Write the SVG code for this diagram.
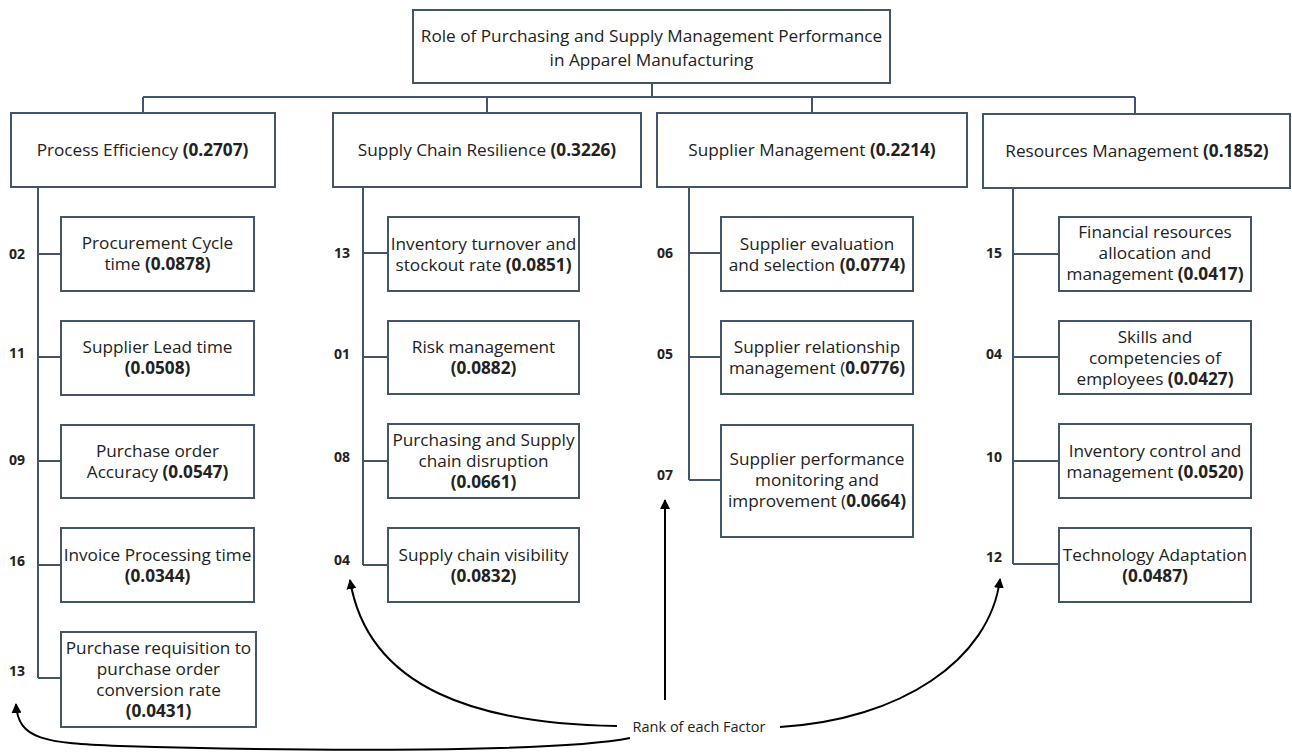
<svg xmlns="http://www.w3.org/2000/svg" width="1292" height="753" viewBox="0 0 1292 753">
<defs>
<style>
.box{fill:#fff;stroke:#44546A;stroke-width:2}
.ln{fill:none;stroke:#44546A;stroke-width:2}
.t{font-family:"Open Sans","Liberation Sans",sans-serif;font-size:17.2px;fill:#222;text-anchor:middle}
.b{font-weight:bold}
.rk{font-family:"Open Sans","Liberation Sans",sans-serif;font-size:14px;font-weight:bold;fill:#222;text-anchor:middle}
.arr{fill:none;stroke:#000;stroke-width:2}
.lbl{font-family:"Open Sans","Liberation Sans",sans-serif;font-size:14.5px;fill:#222;text-anchor:middle}
</style>
<marker id="ah" viewBox="0 0 10 10" refX="9" refY="5" markerWidth="5" markerHeight="5" orient="auto">
<path d="M0,0 L10,5 L0,10 z" fill="#000"/>
</marker>
</defs>
<rect width="1292" height="753" fill="#fff"/>

<g id="connectors">
<path class="ln" d="M652,83 V97 M143,97 H1135 M143,97 V113 M487,97 V113 M812,97 V113 M1135,97 V114"/>
<path class="ln" d="M38,187 V678 M38,254 H61 M38,357 H61 M38,461 H61 M38,565 H61 M38,678 H61"/>
<path class="ln" d="M363,187 V565 M363,253 H388 M363,357 H388 M363,461 H388 M363,565 H388"/>
<path class="ln" d="M689,187 V480 M689,253 H721 M689,357 H721 M689,480 H721"/>
<path class="ln" d="M1013,188 V564 M1013,254 H1059 M1013,357 H1059 M1013,461 H1059 M1013,564 H1059"/>
<path class="arr" d="M665,700 V500" marker-end="url(#ah)"/>
<path class="arr" d="M617,726 C480,724 368,690 350,580" marker-end="url(#ah)"/>
<path class="arr" d="M780,727 C900,720 990,660 1000,579" marker-end="url(#ah)"/>
<path class="arr" d="M630,738 C560,752 320,752 120,746 C45,743 18,740 16,704" marker-end="url(#ah)"/>
</g>

<g id="root">
<rect class="box" x="413" y="10" width="477" height="73"/>
<text class="t" x="651.5" y="42">Role of Purchasing and Supply Management Performance</text>
<text class="t" x="651.5" y="66">in Apparel Manufacturing</text>
</g>

<g id="process-efficiency">
<rect class="box" x="11" y="113" width="264" height="74"/>
<text class="t" x="142.5" y="156">Process Efficiency <tspan class="b">(0.2707)</tspan></text>
</g>
<g id="supply-chain-resilience">
<rect class="box" x="333" y="113" width="308" height="74"/>
<text class="t" x="487" y="156">Supply Chain Resilience <tspan class="b">(0.3226)</tspan></text>
</g>
<g id="supplier-management">
<rect class="box" x="657" y="113" width="310" height="74"/>
<text class="t" x="812" y="156">Supplier Management <tspan class="b">(0.2214)</tspan></text>
</g>
<g id="resources-management">
<rect class="box" x="983" y="114" width="307" height="74"/>
<text class="t" x="1137" y="157">Resources Management <tspan class="b">(0.1852)</tspan></text>
</g>

<g id="pe1"><rect class="box" x="61" y="217" width="193" height="74"/>
<text class="t" x="157.5" y="249">Procurement Cycle</text><text class="t" x="157.5" y="270">time <tspan class="b">(0.0878)</tspan></text>
<text class="rk" x="17" y="259">02</text></g>
<g id="pe2"><rect class="box" x="61" y="321" width="193" height="74"/>
<text class="t" x="157.5" y="353">Supplier Lead time</text><text class="t b" x="157.5" y="374">(0.0508)</text>
<text class="rk" x="17" y="358">11</text></g>
<g id="pe3"><rect class="box" x="61" y="425" width="193" height="73"/>
<text class="t" x="157.5" y="457">Purchase order</text><text class="t" x="157.5" y="478">Accuracy <tspan class="b">(0.0547)</tspan></text>
<text class="rk" x="17" y="465">09</text></g>
<g id="pe4"><rect class="box" x="61" y="528" width="193" height="74"/>
<text class="t" x="157.5" y="560.5">Invoice Processing time</text><text class="t b" x="157.5" y="581.5">(0.0344)</text>
<text class="rk" x="17" y="566">16</text></g>
<g id="pe5"><rect class="box" x="61" y="632" width="195" height="95"/>
<text class="t" x="158.5" y="654">Purchase requisition to</text><text class="t" x="158.5" y="675">purchase order</text><text class="t" x="158.5" y="696">conversion rate</text><text class="t b" x="158.5" y="717">(0.0431)</text>
<text class="rk" x="17" y="676">13</text></g>

<g id="scr1"><rect class="box" x="388" y="217" width="191" height="74"/>
<text class="t" x="483.5" y="249.5">Inventory turnover and</text><text class="t" x="483.5" y="270.5">stockout rate <tspan class="b">(0.0851)</tspan></text>
<text class="rk" x="342" y="258">13</text></g>
<g id="scr2"><rect class="box" x="388" y="321" width="191" height="73"/>
<text class="t" x="483.5" y="353">Risk management</text><text class="t b" x="483.5" y="374">(0.0882)</text>
<text class="rk" x="342" y="359">01</text></g>
<g id="scr3"><rect class="box" x="388" y="424" width="191" height="74"/>
<text class="t" x="483.5" y="446">Purchasing and Supply</text><text class="t" x="483.5" y="467">chain disruption</text><text class="t b" x="483.5" y="488">(0.0661)</text>
<text class="rk" x="342" y="462">08</text></g>
<g id="scr4"><rect class="box" x="388" y="528" width="191" height="74"/>
<text class="t" x="483.5" y="560.5">Supply chain visibility</text><text class="t b" x="483.5" y="581.5">(0.0832)</text>
<text class="rk" x="342" y="565">04</text></g>

<g id="sm1"><rect class="box" x="721" y="217" width="192" height="74"/>
<text class="t" x="817" y="249.5">Supplier evaluation</text><text class="t" x="817" y="270.5">and selection <tspan class="b">(0.0774)</tspan></text>
<text class="rk" x="665" y="258">06</text></g>
<g id="sm2"><rect class="box" x="721" y="321" width="192" height="73"/>
<text class="t" x="817" y="353">Supplier relationship</text><text class="t" x="817" y="374">management (<tspan class="b">0.0776)</tspan></text>
<text class="rk" x="665" y="359">05</text></g>
<g id="sm3"><rect class="box" x="721" y="425" width="192" height="112"/>
<text class="t" x="817" y="465">Supplier performance</text><text class="t" x="817" y="486">monitoring and</text><text class="t" x="817" y="507">improvement (<tspan class="b">0.0664)</tspan></text>
<text class="rk" x="665" y="480">07</text></g>

<g id="rm1"><rect class="box" x="1059" y="217" width="192" height="74"/>
<text class="t" x="1155" y="238">Financial resources</text><text class="t" x="1155" y="259">allocation and</text><text class="t" x="1155" y="280">management <tspan class="b">(0.0417)</tspan></text>
<text class="rk" x="994" y="258">15</text></g>
<g id="rm2"><rect class="box" x="1059" y="321" width="192" height="73"/>
<text class="t" x="1155" y="342.5">Skills and</text><text class="t" x="1155" y="363.5">competencies of</text><text class="t" x="1155" y="384.5">employees <tspan class="b">(0.0427)</tspan></text>
<text class="rk" x="994" y="359">04</text></g>
<g id="rm3"><rect class="box" x="1059" y="424" width="192" height="74"/>
<text class="t" x="1155" y="456.5">Inventory control and</text><text class="t" x="1155" y="477.5">management <tspan class="b">(0.0520)</tspan></text>
<text class="rk" x="994" y="462">10</text></g>
<g id="rm4"><rect class="box" x="1059" y="528" width="192" height="74"/>
<text class="t" x="1155" y="560.5">Technology Adaptation</text><text class="t b" x="1155" y="581.5">(0.0487)</text>
<text class="rk" x="994" y="562">12</text></g>

<g id="rank-label">
<text class="lbl" x="699" y="732">Rank of each Factor</text>
</g>
</svg>
